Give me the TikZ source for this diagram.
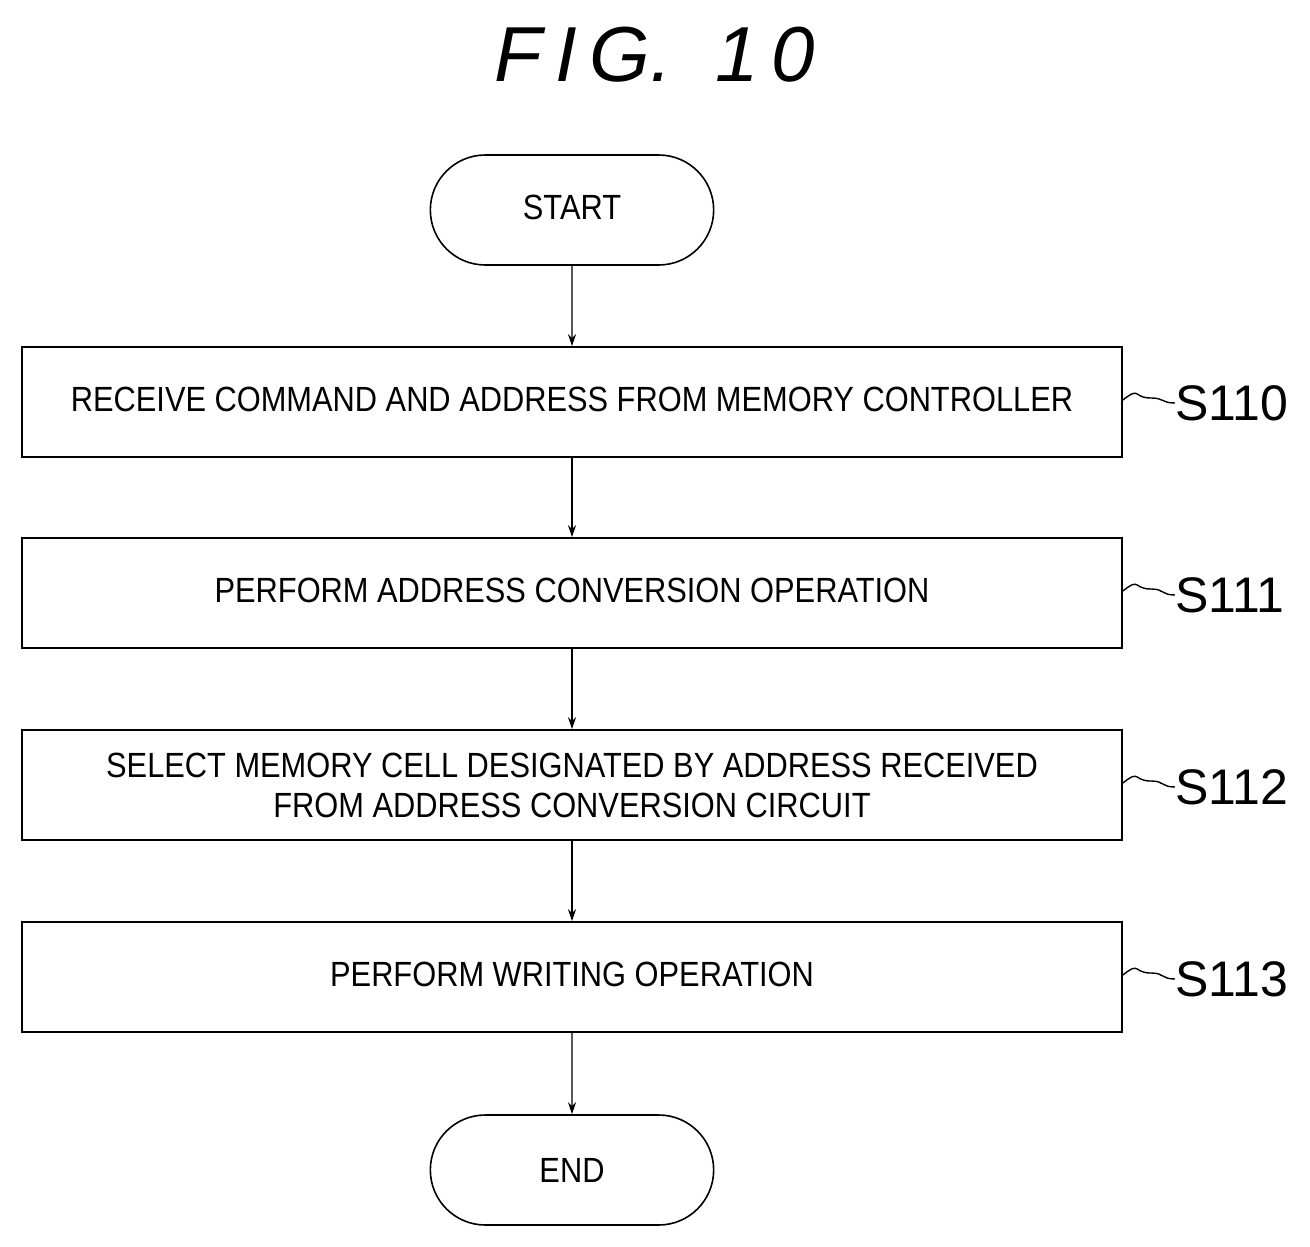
\documentclass[tikz,border=0pt]{standalone}
\usepackage{fontspec}
\setmainfont{Liberation Sans}
\newfontfamily\cond[FakeStretch=0.88]{Liberation Sans}
\usetikzlibrary{shapes.misc,arrows.meta}
\begin{document}
\begin{tikzpicture}[x=1pt,y=-1pt,
  box/.style={draw,line width=1.6pt,minimum width=1100pt,minimum height=110pt,inner sep=0pt,align=center,font=\cond\fontsize{35}{40}\selectfont},
  term/.style={draw,line width=1.6pt,rounded rectangle,minimum width=290pt,minimum height=110pt,font=\cond\fontsize{35}{40}\selectfont},
  arr/.style={line width=1.4pt,-{Stealth[length=12pt,width=8pt]}},
  lab/.style={font=\fontsize{50}{54}\selectfont,anchor=west,inner sep=0pt},
  tl/.style={line width=1.4pt}]
\useasboundingbox (0,0) rectangle (1310,1247);
\node[font=\itshape\fontsize{78}{90}\selectfont] (t) at (655,55) {F\,I\,G.\ \ 1\,0};
\node[term] (st) at (572,210) {\raisebox{6pt}{START}};
\node[box] (b0) at (572,402) {\raisebox{5pt}{RECEIVE COMMAND AND ADDRESS FROM MEMORY CONTROLLER}};
\node[box] (b1) at (572,593) {\raisebox{5pt}{PERFORM ADDRESS CONVERSION OPERATION}};
\node[box] (b2) at (572,785) {SELECT MEMORY CELL DESIGNATED BY ADDRESS RECEIVED\\FROM ADDRESS CONVERSION CIRCUIT};
\node[box] (b3) at (572,977) {\raisebox{5pt}{PERFORM WRITING OPERATION}};
\node[term] (en) at (572,1170) {END};
\draw[arr] (st) -- (b0);
\draw[arr] (b0) -- (b1);
\draw[arr] (b1) -- (b2);
\draw[arr] (b2) -- (b3);
\draw[arr] (b3) -- (en);
\foreach \n/\s/\y in {b0/S110/403,b1/S111/595,b2/S112/787,b3/S113/979}{
  \coordinate (c\n) at (1175,\y);
  \draw[tl] (\n.east) ++(0,-2) .. controls ++(18,-14) and ++(-18,0) .. ++(28,-2) .. controls ++(14,0) and ++(-14,0) .. (c\n);
  \node[lab] at (c\n) {\s};
}
\end{tikzpicture}
\end{document}
